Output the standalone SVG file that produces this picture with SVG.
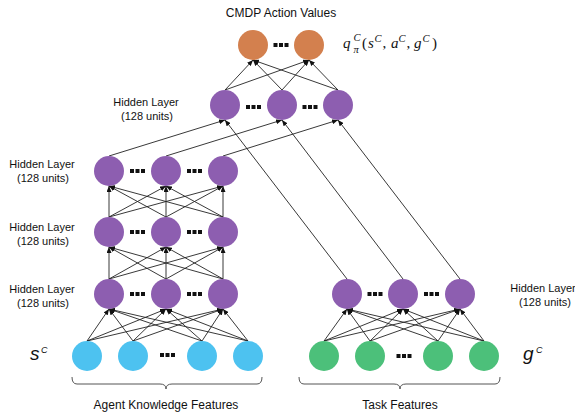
<svg xmlns="http://www.w3.org/2000/svg" xmlns:xlink="http://www.w3.org/1999/xlink" width="575" height="417" viewBox="0 0 575 417">
<style>
.lbl{font-family:"Liberation Sans",Arial,sans-serif;font-size:11px;fill:#111;text-anchor:middle}
.ttl{font-family:"Liberation Sans",Arial,sans-serif;font-size:12px;fill:#111;text-anchor:middle}
.math{font-family:"Liberation Serif","Times New Roman",serif;fill:#111;font-size:15px}
.mi{font-style:italic}
.sup{font-style:italic;font-size:10.5px}
.vec{font-family:"Liberation Sans",Arial,sans-serif;font-style:italic;fill:#111}
.c line{stroke:#222;stroke-width:0.9;marker-end:url(#ah)}
.o{fill:#D3804E}.p{fill:#8D5EB0}.b{fill:#4DC2F0}.g{fill:#4CC07A}
.brace{fill:none;stroke:#555;stroke-width:1}
</style>
<defs>
<marker id="ah" markerUnits="userSpaceOnUse" markerWidth="6" markerHeight="5" refX="6" refY="2.5" orient="auto"><path d="M0,0 L6,2.5 L0,5 z" fill="#111"/></marker>
<g id="dots" fill="#111"><rect x="-7.5" y="-2" width="4" height="4"/><rect x="-2" y="-2" width="4" height="4"/><rect x="3.5" y="-2" width="4" height="4"/></g>
</defs>
<rect width="575" height="417" fill="#fff"/>
<g id="connectors" class="c">
<line x1="87" y1="341" x2="109" y2="309"/><line x1="87" y1="341" x2="166" y2="309"/><line x1="87" y1="341" x2="223" y2="309"/>
<line x1="133" y1="341" x2="109" y2="309"/><line x1="133" y1="341" x2="166" y2="309"/><line x1="133" y1="341" x2="223" y2="309"/>
<line x1="202" y1="341" x2="109" y2="309"/><line x1="202" y1="341" x2="166" y2="309"/><line x1="202" y1="341" x2="223" y2="309"/>
<line x1="248" y1="341" x2="109" y2="309"/><line x1="248" y1="341" x2="166" y2="309"/><line x1="248" y1="341" x2="223" y2="309"/>
<line x1="109" y1="279" x2="109" y2="247"/><line x1="109" y1="279" x2="166" y2="247"/><line x1="109" y1="279" x2="223" y2="247"/>
<line x1="166" y1="279" x2="109" y2="247"/><line x1="166" y1="279" x2="166" y2="247"/><line x1="166" y1="279" x2="223" y2="247"/>
<line x1="223" y1="279" x2="109" y2="247"/><line x1="223" y1="279" x2="166" y2="247"/><line x1="223" y1="279" x2="223" y2="247"/>
<line x1="109" y1="217" x2="109" y2="186"/><line x1="109" y1="217" x2="166" y2="186"/><line x1="109" y1="217" x2="223" y2="186"/>
<line x1="166" y1="217" x2="109" y2="186"/><line x1="166" y1="217" x2="166" y2="186"/><line x1="166" y1="217" x2="223" y2="186"/>
<line x1="223" y1="217" x2="109" y2="186"/><line x1="223" y1="217" x2="166" y2="186"/><line x1="223" y1="217" x2="223" y2="186"/>
<line x1="109" y1="156" x2="225" y2="120"/><line x1="166" y1="156" x2="282" y2="120"/><line x1="223" y1="156" x2="338" y2="120"/>
<line x1="347" y1="279" x2="225" y2="120"/><line x1="403" y1="279" x2="282" y2="120"/><line x1="460" y1="279" x2="338" y2="120"/>
<line x1="225" y1="90" x2="253" y2="60"/><line x1="225" y1="90" x2="309" y2="60"/>
<line x1="282" y1="90" x2="253" y2="60"/><line x1="282" y1="90" x2="309" y2="60"/>
<line x1="338" y1="90" x2="253" y2="60"/><line x1="338" y1="90" x2="309" y2="60"/>
<line x1="324" y1="341" x2="347" y2="309"/><line x1="324" y1="341" x2="403" y2="309"/><line x1="324" y1="341" x2="460" y2="309"/>
<line x1="370" y1="341" x2="347" y2="309"/><line x1="370" y1="341" x2="403" y2="309"/><line x1="370" y1="341" x2="460" y2="309"/>
<line x1="438" y1="341" x2="347" y2="309"/><line x1="438" y1="341" x2="403" y2="309"/><line x1="438" y1="341" x2="460" y2="309"/>
<line x1="484" y1="341" x2="347" y2="309"/><line x1="484" y1="341" x2="403" y2="309"/><line x1="484" y1="341" x2="460" y2="309"/>
</g>
<g id="output-layer">
<circle class="o" cx="253" cy="45" r="15"/><circle class="o" cx="309" cy="45" r="15"/>
<use xlink:href="#dots" x="281" y="45"/>
</g>
<g id="top-hidden">
<circle class="p" cx="225" cy="105" r="15"/><circle class="p" cx="282" cy="105" r="15"/><circle class="p" cx="338" cy="105" r="15"/>
<use xlink:href="#dots" x="253.5" y="107"/><use xlink:href="#dots" x="310" y="107"/>
</g>
<g id="left-hidden-3">
<circle class="p" cx="109" cy="171" r="15"/><circle class="p" cx="166" cy="171" r="15"/><circle class="p" cx="223" cy="171" r="15"/>
<use xlink:href="#dots" x="137.5" y="171"/><use xlink:href="#dots" x="194.5" y="171"/>
</g>
<g id="left-hidden-2">
<circle class="p" cx="109" cy="232" r="15"/><circle class="p" cx="166" cy="232" r="15"/><circle class="p" cx="223" cy="232" r="15"/>
<use xlink:href="#dots" x="137.5" y="232"/><use xlink:href="#dots" x="194.5" y="232"/>
</g>
<g id="left-hidden-1">
<circle class="p" cx="109" cy="294" r="15"/><circle class="p" cx="166" cy="294" r="15"/><circle class="p" cx="223" cy="294" r="15"/>
<use xlink:href="#dots" x="137.5" y="294"/><use xlink:href="#dots" x="194.5" y="294"/>
</g>
<g id="right-hidden">
<circle class="p" cx="347" cy="294" r="15"/><circle class="p" cx="403" cy="294" r="15"/><circle class="p" cx="460" cy="294" r="15"/>
<use xlink:href="#dots" x="375" y="294"/><use xlink:href="#dots" x="431.5" y="294"/>
</g>
<g id="agent-inputs">
<circle class="b" cx="87" cy="356" r="15"/><circle class="b" cx="133" cy="356" r="15"/><circle class="b" cx="202" cy="356" r="15"/><circle class="b" cx="248" cy="356" r="15"/>
<use xlink:href="#dots" x="167.5" y="355"/>
</g>
<g id="task-inputs">
<circle class="g" cx="324" cy="356" r="15"/><circle class="g" cx="370" cy="356" r="15"/><circle class="g" cx="438" cy="356" r="15"/><circle class="g" cx="484" cy="356" r="15"/>
<use xlink:href="#dots" x="404" y="356"/>
</g>
<g id="braces">
<path class="brace" d="M72,377 Q72,384 77,384 L160,384 Q166,384 166,389 Q166,384 172,384 L257,384 Q262,384 262,377"/>
<path class="brace" d="M299,377 Q299,384 304,384 L394,384 Q400,384 400,389 Q400,384 406,384 L495,384 Q500,384 500,377"/>
</g>
<g id="labels">
<text class="ttl" x="281" y="17">CMDP Action Values</text>
<g class="math">
<text class="mi" x="343" y="48">q</text>
<text class="sup" x="353.5" y="41" font-size="10">C</text>
<text class="sup" x="353.5" y="52.5" font-size="9">π</text>
<text x="362" y="48">(</text>
<text class="mi" x="368" y="48">s</text>
<text class="sup" x="374.5" y="41.5">C</text>
<text x="382.5" y="48">,</text>
<text class="mi" x="391" y="48">a</text>
<text class="sup" x="398.5" y="41.5">C</text>
<text x="406.5" y="48">,</text>
<text class="mi" x="414" y="48">g</text>
<text class="sup" x="422.5" y="41.5">C</text>
<text x="432" y="48">)</text>
</g>
<text class="lbl" x="146" y="106">Hidden Layer</text><text class="lbl" x="147" y="120">(128 units)</text>
<text class="lbl" x="42" y="168">Hidden Layer</text><text class="lbl" x="43" y="182">(128 units)</text>
<text class="lbl" x="42" y="231">Hidden Layer</text><text class="lbl" x="43" y="245">(128 units)</text>
<text class="lbl" x="42" y="293">Hidden Layer</text><text class="lbl" x="43" y="307">(128 units)</text>
<text class="lbl" x="543" y="292">Hidden Layer</text><text class="lbl" x="545" y="306">(128 units)</text>
<text class="vec" x="30" y="360" font-size="19">s</text><text class="vec" x="41" y="353" font-size="9">C</text>
<text class="vec" x="523" y="360" font-size="19">g</text><text class="vec" x="536" y="353" font-size="9">C</text>
<text class="ttl" x="166" y="409">Agent Knowledge Features</text>
<text class="ttl" x="400" y="409">Task Features</text>
</g>
</svg>
